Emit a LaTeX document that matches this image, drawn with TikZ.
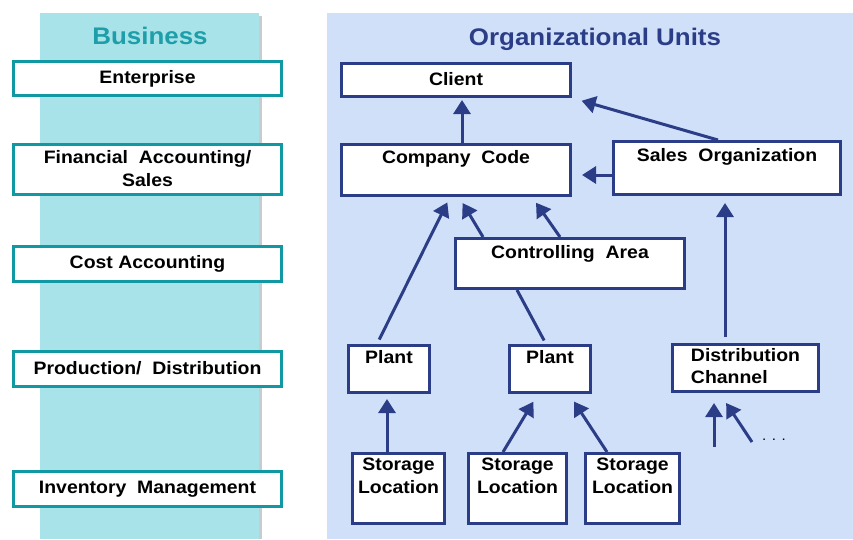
\documentclass[tikz,border=0pt]{standalone}
\usepackage{fontspec}
\setmainfont{Liberation Sans}[FakeStretch=1.08]
\usetikzlibrary{arrows.meta,calc}

\definecolor{bizteal}{RGB}{16,152,164}
\definecolor{biztitle}{RGB}{30,158,168}
\definecolor{bizbg}{RGB}{169,227,234}
\definecolor{orgbg}{RGB}{208,224,249}
\definecolor{orgnavy}{RGB}{43,61,134}
\definecolor{shadowgray}{RGB}{200,204,206}

\begin{document}
\begin{tikzpicture}[x=1pt,y=1pt,yscale=-1,
    bizbox/.style={draw=bizteal, line width=3pt, fill=white, inner sep=0pt, anchor=north west, minimum width=268pt, align=center, font=\bfseries\fontsize{18}{23}\selectfont},
    orgbox/.style={draw=orgnavy, line width=3pt, fill=white, inner sep=0pt, anchor=north west, align=center, font=\bfseries\fontsize{18}{23}\selectfont},
    link/.style={draw=orgnavy, line width=3pt, -{Triangle[length=14pt,width=17pt]}},
    plainlink/.style={draw=orgnavy, line width=3pt},
    title/.style={anchor=base, font=\bfseries\fontsize{24}{28}\selectfont}]
        \useasboundingbox (0,0) rectangle (853,539);

        %Shape: Rectangle [business column]
        \fill [shadowgray] (259,16) rectangle (262,539);
        \fill [bizbg] (39.5,13) rectangle (259,539);
        %Shape: Rectangle [units panel]
        \fill [orgbg] (327,13) rectangle (853,539);

        % Text Node
        \node [title, text=biztitle] (bizhead) at (150,44.5) {Business};
        % Text Node
        \node [title, text=orgnavy] (orghead) at (595,45) {Organizational Units};

        % Business levels
        \node [bizbox, text height=21.8pt, text depth=12.2pt] (enterprise) at (12,60) {Enterprise};
        \node [bizbox, text height=41.8pt, text depth=8.2pt] (finance) at (12,143) {Financial~ Accounting/\\Sales};
        \node [bizbox, text height=21.8pt, text depth=13.2pt] (costacc) at (12,245) {Cost Accounting};
        \node [bizbox, text height=22.8pt, text depth=12.2pt] (production) at (12,350) {Production/~ Distribution};
        \node [bizbox, text height=21.8pt, text depth=13.2pt] (inventory) at (12,470) {Inventory~ Management};

        % Organizational units
        \node [orgbox, minimum width=229pt, text height=21.5pt, text depth=11.5pt] (client) at (340,62) {Client};
        \node [orgbox, minimum width=229pt, text height=18.5pt, text depth=32.5pt] (ccode) at (340,143) {Company~ Code};
        \node [orgbox, minimum width=227pt, text height=20.2pt, text depth=32.8pt] (salesorg) at (612,140) {Sales~ Organization};
        \node [orgbox, minimum width=229pt, text height=19.8pt, text depth=30.2pt] (ctrlarea) at (454,237) {Controlling~ Area};
        \node [orgbox, minimum width=81pt, text height=17.8pt, text depth=29.2pt] (plantA) at (347,344) {Plant};
        \node [orgbox, minimum width=81pt, text height=17.8pt, text depth=29.2pt] (plantB) at (508,344) {Plant};
        \node [orgbox, minimum width=146pt, align=left, text height=39.2pt, text depth=7.8pt, font=\bfseries\fontsize{18}{22}\selectfont] (distchan) at (671,343) {Distribution\\Channel};
        \node [orgbox, minimum width=92pt, text height=39.5pt, text depth=30.5pt] (storA) at (351,452) {Storage\\Location};
        \node [orgbox, minimum width=98pt, text height=39.5pt, text depth=30.5pt] (storB) at (467,452) {Storage\\Location};
        \node [orgbox, minimum width=94pt, text height=39.5pt, text depth=30.5pt] (storC) at (584,452) {Storage\\Location};

        % Arrows
        \draw [link, shorten >=2pt] ([xshift=6pt]ccode.north) -- ([xshift=6pt]client.south);
        \draw [link, shorten >=10pt] ([xshift=-9pt]salesorg.north) -- (client.south east);
        \draw [link, shorten >=10pt] ($(salesorg.west)+(0,7)$) -- ($(ccode.east)+(0,5)$);
        \draw [link, shorten <=5pt, shorten >=6pt] ([xshift=-12pt]plantA.north) -- ([xshift=-6pt]ccode.south);
        \draw [link, shorten >=7pt] ([xshift=-87pt]ctrlarea.north) -- ([xshift=3pt]ccode.south);
        \draw [link, shorten >=7pt] ([xshift=-10pt]ctrlarea.north) -- ([xshift=76pt]ccode.south);
        \draw [plainlink, shorten >=4pt] ([xshift=-53pt]ctrlarea.south) -- ([xshift=-4pt]plantB.north);
        \draw [link, shorten <=6pt, shorten >=7pt] ([xshift=-20.5pt]distchan.north) -- ([xshift=-2pt]salesorg.south);
        \draw [link, shorten >=5pt] ([xshift=-11.5pt]storA.north) -- ([xshift=-2pt]plantA.south);
        \draw [link, shorten >=9pt] ([xshift=-14.5pt]storB.north) -- ([xshift=-12pt]plantB.south);
        \draw [link, shorten >=9pt] ([xshift=-25.5pt]storC.north) -- ([xshift=19pt]plantB.south);

        \coordinate (chanA) at (714,447);
        \coordinate (chanB) at (752,442);
        \draw [link, shorten >=10pt] (chanA) -- ([xshift=-31.5pt]distchan.south);
        \draw [link, shorten >=12pt] (chanB) -- ([xshift=-26pt]distchan.south);
        % Text Node
        \node [font=\fontsize{14}{16}\selectfont] (more) at (774,440) {. . .};

\end{tikzpicture}
\end{document}
